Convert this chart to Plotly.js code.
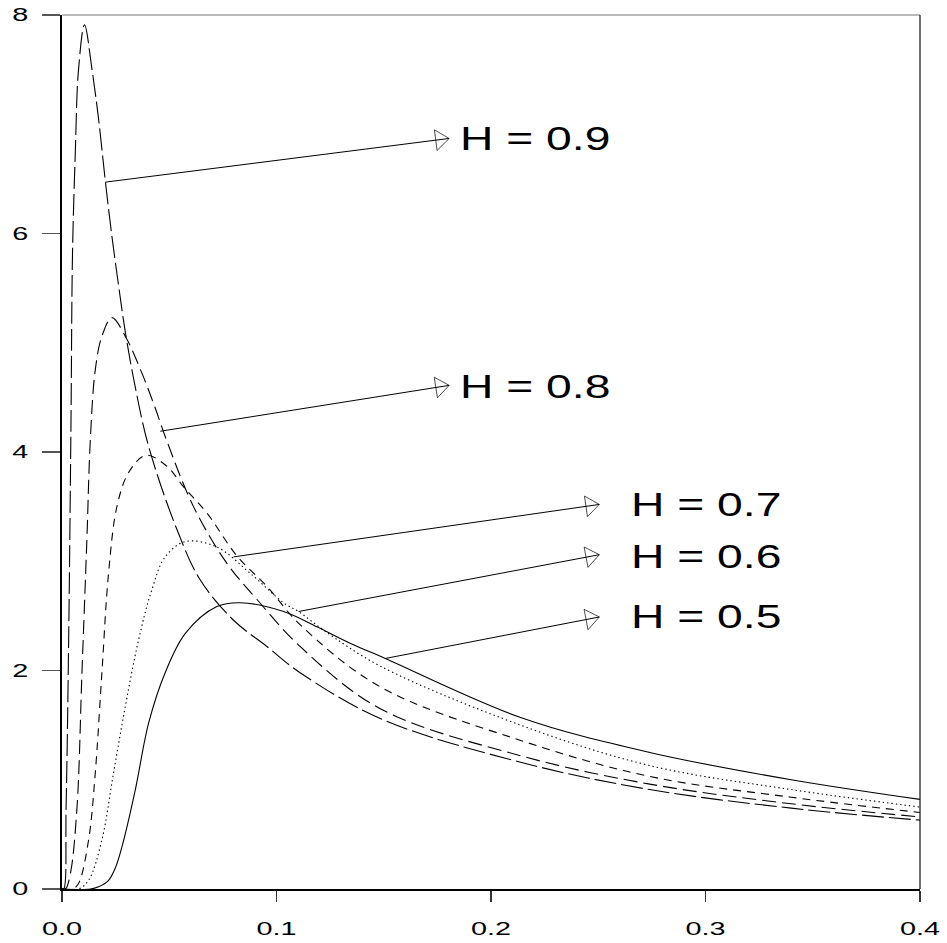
<!DOCTYPE html>
<html>
<head>
<meta charset="utf-8">
<script src="https://cdn.plot.ly/plotly-3.0.1.min.js"></script>
<style>
  html, body { margin: 0; padding: 0; background: #ffffff; }
  #chart { width: 947px; height: 943px; }
</style>
</head>
<body>
<div id="chart"></div>
<script>
// ---- Data ----
const seriesNames = ["H = 0.5", "H = 0.6", "H = 0.7", "H = 0.8", "H = 0.9"];

const xH05 = [0, 0.0133, 0.017, 0.0217, 0.025, 0.028, 0.0342, 0.0404, 0.0481, 0.0575, 0.0722, 0.0831, 0.1033, 0.1188, 0.1343, 0.1507, 0.2138, 0.274, 0.34, 0.4];
const yH05 = [0, 0, 0.02, 0.08, 0.2, 0.39, 0.91, 1.52, 1.98, 2.34, 2.585, 2.62, 2.54, 2.40, 2.25, 2.11, 1.57, 1.25, 1.00, 0.82];

const xH06 = [0, 0.0077, 0.0124, 0.0186, 0.024, 0.0295, 0.0357, 0.0419, 0.0481, 0.0575, 0.0722, 0.0877, 0.1033, 0.111, 0.1219, 0.1484, 0.2138, 0.274, 0.34, 0.4];
const yH06 = [0, 0, 0.08, 0.45, 1.06, 1.67, 2.28, 2.74, 3.04, 3.18, 3.13, 2.89, 2.62, 2.53, 2.37, 2.04, 1.50, 1.13, 0.91, 0.75];

const xH07 = [0, 0.005, 0.0077, 0.0124, 0.0155, 0.0186, 0.0217, 0.0256, 0.031, 0.039, 0.0489, 0.0567, 0.0676, 0.0815, 0.0955, 0.111, 0.1484, 0.2138, 0.274, 0.34, 0.4];
const yH07 = [0, 0, 0.05, 0.45, 1.06, 1.98, 2.89, 3.50, 3.81, 3.97, 3.87, 3.68, 3.44, 3.05, 2.77, 2.42, 1.85, 1.36, 1.03, 0.84, 0.70];

const xH08 = [0, 0.0016, 0.0039, 0.007, 0.0093, 0.0116, 0.0132, 0.0155, 0.0186, 0.0233, 0.0295, 0.0373, 0.0435, 0.0489, 0.0613, 0.0769, 0.0909, 0.111, 0.1484, 0.2138, 0.274, 0.34, 0.4];
const yH08 = [0, 0, 0.14, 0.75, 1.98, 3.20, 4.11, 4.75, 5.06, 5.23, 5.06, 4.72, 4.40, 4.10, 3.50, 2.98, 2.65, 2.22, 1.65, 1.22, 0.96, 0.78, 0.66];

const xH09 = [0, 0.0008, 0.0019, 0.0031, 0.0042, 0.0049, 0.0062, 0.0077, 0.0105, 0.0140, 0.0171, 0.0202, 0.0233, 0.0264, 0.0295, 0.0338, 0.0404, 0.0536, 0.0644, 0.080, 0.0955, 0.111, 0.1484, 0.2138, 0.274, 0.34, 0.4];
const yH09 = [0, 0, 0.75, 2.28, 4.3, 5.82, 6.74, 7.50, 7.91, 7.50, 7.04, 6.48, 5.97, 5.52, 5.10, 4.63, 4.05, 3.29, 2.83, 2.46, 2.22, 1.98, 1.56, 1.16, 0.91, 0.74, 0.63];

const xTickVals = [0, 0.1, 0.2, 0.3, 0.4];
const xTickText = ["0.0", "0.1", "0.2", "0.3", "0.4"];
const yTickVals = [0, 2, 4, 6, 8];
const yTickText = ["0", "2", "4", "6", "8"];

// ---- Label placement (layout, not data) ----
const labelPlacement = [
  { name: "H = 0.9", tail: [0.0202, 6.47], tip: [0.1805, 6.87], textX: 0.1847, textY: 6.87 },
  { name: "H = 0.8", tail: [0.0458, 4.19], tip: [0.1805, 4.61], textX: 0.1847, textY: 4.60 },
  { name: "H = 0.7", tail: [0.0800, 3.04], tip: [0.2505, 3.52], textX: 0.2643, textY: 3.52 },
  { name: "H = 0.6", tail: [0.1103, 2.54], tip: [0.2505, 3.06], textX: 0.2643, textY: 3.05 },
  { name: "H = 0.5", tail: [0.1507, 2.11], tip: [0.2505, 2.49], textX: 0.2643, textY: 2.50 }
];

const curveStyles = [
  { dash: "solid", width: 1.1 },
  { dash: "1.4px,3px", width: 1.1 },
  { dash: "8px,6px", width: 1.1 },
  { dash: "14px,6px", width: 1.1 },
  { dash: "22px,5px", width: 1.1 }
];

const xs = [xH05, xH06, xH07, xH08, xH09];
const ys = [yH05, yH06, yH07, yH08, yH09];

const traces = [];
for (let i = 0; i < xs.length; i++) {
  traces.push({
    type: "scatter", mode: "lines", name: seriesNames[i],
    x: xs[i], y: ys[i],
    line: { color: "#000000", width: curveStyles[i].width, dash: curveStyles[i].dash, shape: "spline", smoothing: 1 },
    hoverinfo: "skip", showlegend: false
  });
}

const ARROW_SIZE = 18;
labelPlacement.forEach(l => {
  traces.push({
    type: "scatter", mode: "lines+markers",
    x: [l.tail[0], l.tip[0]], y: [l.tail[1], l.tip[1]],
    line: { color: "#000000", width: 1 },
    marker: {
      symbol: ["circle", "triangle-up-open"], size: [0, ARROW_SIZE],
      angleref: "previous", angle: 0, standoff: ARROW_SIZE / 2,
      color: "#000000", line: { color: "#000000", width: 1 }
    },
    hoverinfo: "skip", showlegend: false
  });
});

const annotations = labelPlacement.map(l => ({
  x: l.textX, y: l.textY, xref: "x", yref: "y",
  text: l.name, showarrow: false, xanchor: "left", yanchor: "middle",
  font: { family: "Liberation Sans, Arial, sans-serif", size: 34, color: "#000000" }
}));

const layout = {
  width: 947, height: 943,
  margin: { l: 62, r: 27, t: 15, b: 54, pad: 0 },
  paper_bgcolor: "#ffffff", plot_bgcolor: "#ffffff",
  xaxis: {
    range: [0, 0.4], tickvals: xTickVals, ticktext: xTickText,
    showgrid: false, zeroline: false, showline: true, linecolor: "#000000", linewidth: 1.5,
    ticks: "outside", ticklen: 11, tickwidth: 1.2, tickcolor: "#333333",
    ticklabelstandoff: 12,
    tickfont: { family: "Liberation Sans, Arial, sans-serif", size: 18, color: "#000000" },
    fixedrange: true
  },
  yaxis: {
    range: [0, 8], tickvals: yTickVals, ticktext: yTickText,
    showgrid: false, zeroline: false, showline: true, linecolor: "#000000", linewidth: 2,
    ticks: "outside", ticklen: 18, tickwidth: 1.2, tickcolor: "#555555",
    ticklabelstandoff: 10,
    tickfont: { family: "Liberation Sans, Arial, sans-serif", size: 18, color: "#000000" },
    fixedrange: true
  },
  shapes: [
    { type: "line", xref: "paper", yref: "paper", x0: 0, x1: 1, y0: 1, y1: 1, line: { color: "#777777", width: 1.2 } },
    { type: "line", xref: "paper", yref: "paper", x0: 1, x1: 1, y0: 0, y1: 1, line: { color: "#222222", width: 1.3 } }
  ],
  annotations: annotations,
  showlegend: false
};

// Horizontal stretch of the text (the reference glyphs are wide)
function stretchText(gd) {
  const apply = (sel, s, anchor) => gd.querySelectorAll(sel).forEach(t => {
    let base = t.getAttribute("data-base-tf");
    if (base === null) { base = t.getAttribute("transform") || ""; t.setAttribute("data-base-tf", base); }
    t.setAttribute("transform", base);
    const b = t.getBBox();
    const ax = anchor === "left" ? b.x : anchor === "right" ? b.x + b.width : b.x + b.width / 2;
    const ay = b.y + b.height / 2;
    t.setAttribute("transform", (base ? base + " " : "") + "translate(" + ax + "," + ay + ") scale(" + s + ",1) translate(" + (-ax) + "," + (-ay) + ")");
  });
  apply(".xtick text", 1.6, "center");
  apply(".ytick text", 1.6, "right");
  apply(".annotation-text", 1.36, "left");
}

const gd = document.getElementById("chart");
Plotly.newPlot(gd, traces, layout, { staticPlot: true, displayModeBar: false }).then(() => stretchText(gd));
</script>
</body>
</html>
